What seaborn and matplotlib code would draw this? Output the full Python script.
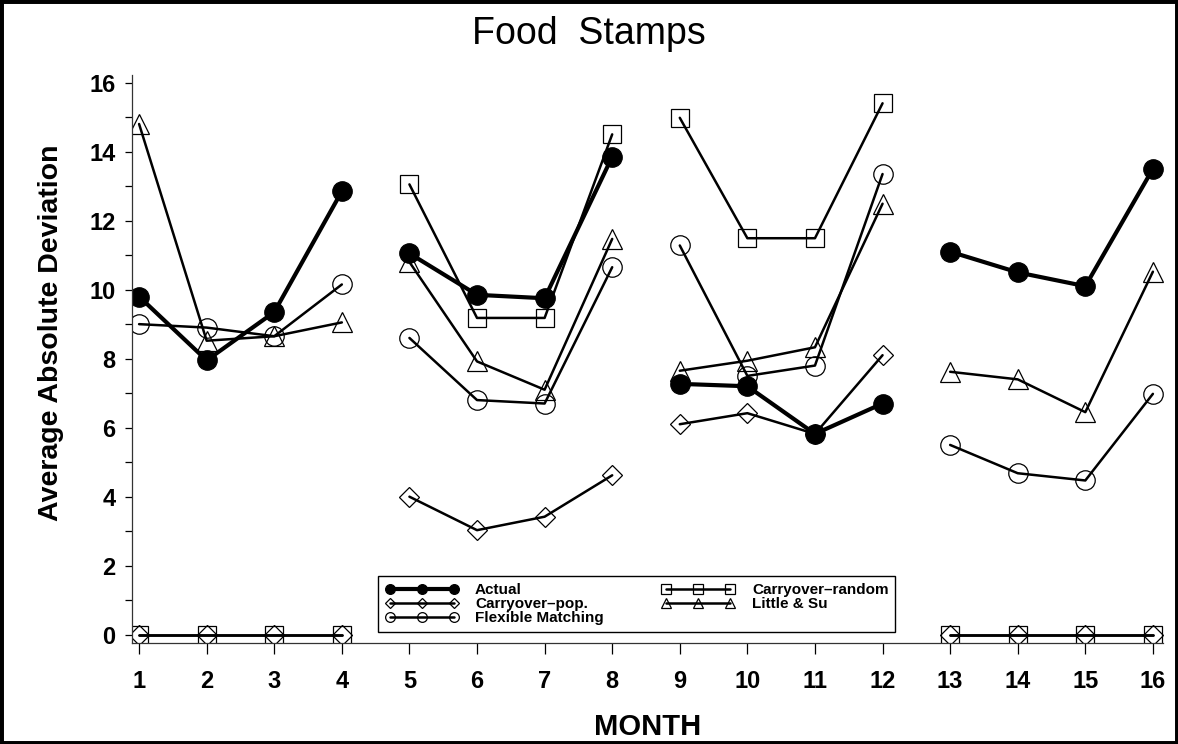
import pandas as pd
import matplotlib.pyplot as plt
import matplotlib.patches as mpatches
import seaborn as sns
import numpy as np

# values
months = list(range(1, 17))
actual = [9.8, 7.95, 9.35, 12.85, 11.05, 9.85, 9.75, 13.85, 7.27, 7.2, 5.82, 6.7, 11.1, 10.5, 10.1, 13.5]
carry_pop = [0, 0, 0, 0, 4.0, 3.03, 3.42, 4.62, 6.1, 6.42, 5.82, 8.1, 0, 0, 0, 0]
flexible = [9.0, 8.9, 8.65, 10.15, 8.6, 6.8, 6.7, 10.65, 11.28, 7.5, 7.8, 13.35, 5.5, 4.68, 4.47, 6.98]
carry_rand = [0, 0, 0, 0, 13.05, 9.18, 9.18, 14.5, 14.98, 11.49, 11.49, 15.4, 0, 0, 0, 0]
little_su = [14.8, 8.52, 8.65, 9.05, 10.8, 7.92, 7.1, 11.47, 7.65, 7.94, 8.33, 12.49, 7.62, 7.4, 6.45, 10.52]

labels = ['Actual', 'Carryover\u2013pop.', 'Flexible Matching', 'Carryover\u2013random', 'Little & Su']
series = [actual, carry_pop, flexible, carry_rand, little_su]

sns.set_style('ticks')
plt.rcParams['font.family'] = ['Liberation Sans', 'DejaVu Sans']
plt.rcParams.update({'text.color': 'black', 'axes.labelcolor': 'black',
                     'xtick.color': 'black', 'ytick.color': 'black'})

fig = plt.figure(figsize=(11.78, 7.44), dpi=100)
ax = fig.add_axes([0.1121, 0.1362, 0.8752, 0.763])

# line / marker style per series
styles = {
    'Actual': dict(marker='o', ms=14, mfc='black', lw=3.0),
    'Carryover\u2013pop.': dict(marker='D', ms=10, mfc='none', lw=1.8),
    'Flexible Matching': dict(marker='o', ms=14, mfc='none', lw=1.8),
    'Carryover\u2013random': dict(marker='s', ms=13, mfc='none', lw=1.8),
    'Little & Su': dict(marker='^', ms=14, mfc='none', lw=1.8),
}

handles = {}
draw_order = ['Carryover\u2013random', 'Carryover\u2013pop.', 'Little & Su', 'Flexible Matching', 'Actual']
for name in draw_order:
    vals = series[labels.index(name)]
    df = pd.DataFrame({'month': months, 'value': vals})
    df['block'] = (df['month'] - 1) // 4
    st = styles[name]
    sns.lineplot(data=df, x='month', y='value', units='block', estimator=None,
                 color='black', marker=st['marker'], markersize=st['ms'],
                 markerfacecolor=st['mfc'], markeredgecolor='black',
                 markeredgewidth=0.9, linewidth=st['lw'], ax=ax, legend=False)
    handles[name] = ax.lines[-1]

ax.set_xlim(0.896, 16.15)
ax.set_ylim(-0.23, 16.22)
ax.set_xticks(months)
ax.set_yticks(np.arange(0, 17, 2))
ax.set_yticks(np.arange(1, 17, 2), minor=True)
ax.tick_params(axis='y', which='major', length=5, width=0.9, pad=7, labelsize=17)
ax.tick_params(axis='y', which='minor', length=5, width=0.9)
ax.tick_params(axis='x', which='major', length=8, width=0.9, pad=12, labelsize=17)
for lab in ax.get_xticklabels() + ax.get_yticklabels():
    lab.set_fontweight('bold')
sns.despine(ax=ax)
for sp in ['left', 'bottom']:
    ax.spines[sp].set_linewidth(0.9)
    ax.spines[sp].set_color('#333333')

ax.set_xlabel('MONTH', fontsize=21, fontweight='bold', labelpad=14)
ax.set_ylabel('Average Absolute Deviation', fontsize=20.5, fontweight='bold')
ax.yaxis.set_label_coords(-0.066, 0.5455)
fig.suptitle('Food  Stamps', fontsize=27, y=0.978, va='top')

leg = ax.legend([handles[n] for n in labels], labels, ncol=2, numpoints=3,
                loc='lower left', bbox_to_anchor=(0.2386, 0.0188),
                frameon=True, fancybox=False, framealpha=1, edgecolor='black',
                prop={'weight': 'bold', 'size': 11}, handlelength=4.8,
                handletextpad=1.1, columnspacing=3.8, labelspacing=0.0,
                borderpad=0.45, markerscale=0.5, borderaxespad=0)
leg.get_frame().set_linewidth(1.0)

fig.patches.append(mpatches.Rectangle((0, 0), 1, 1, transform=fig.transFigure,
                                      fill=False, edgecolor='black', linewidth=5))

fig.savefig('out.png', dpi=100)
